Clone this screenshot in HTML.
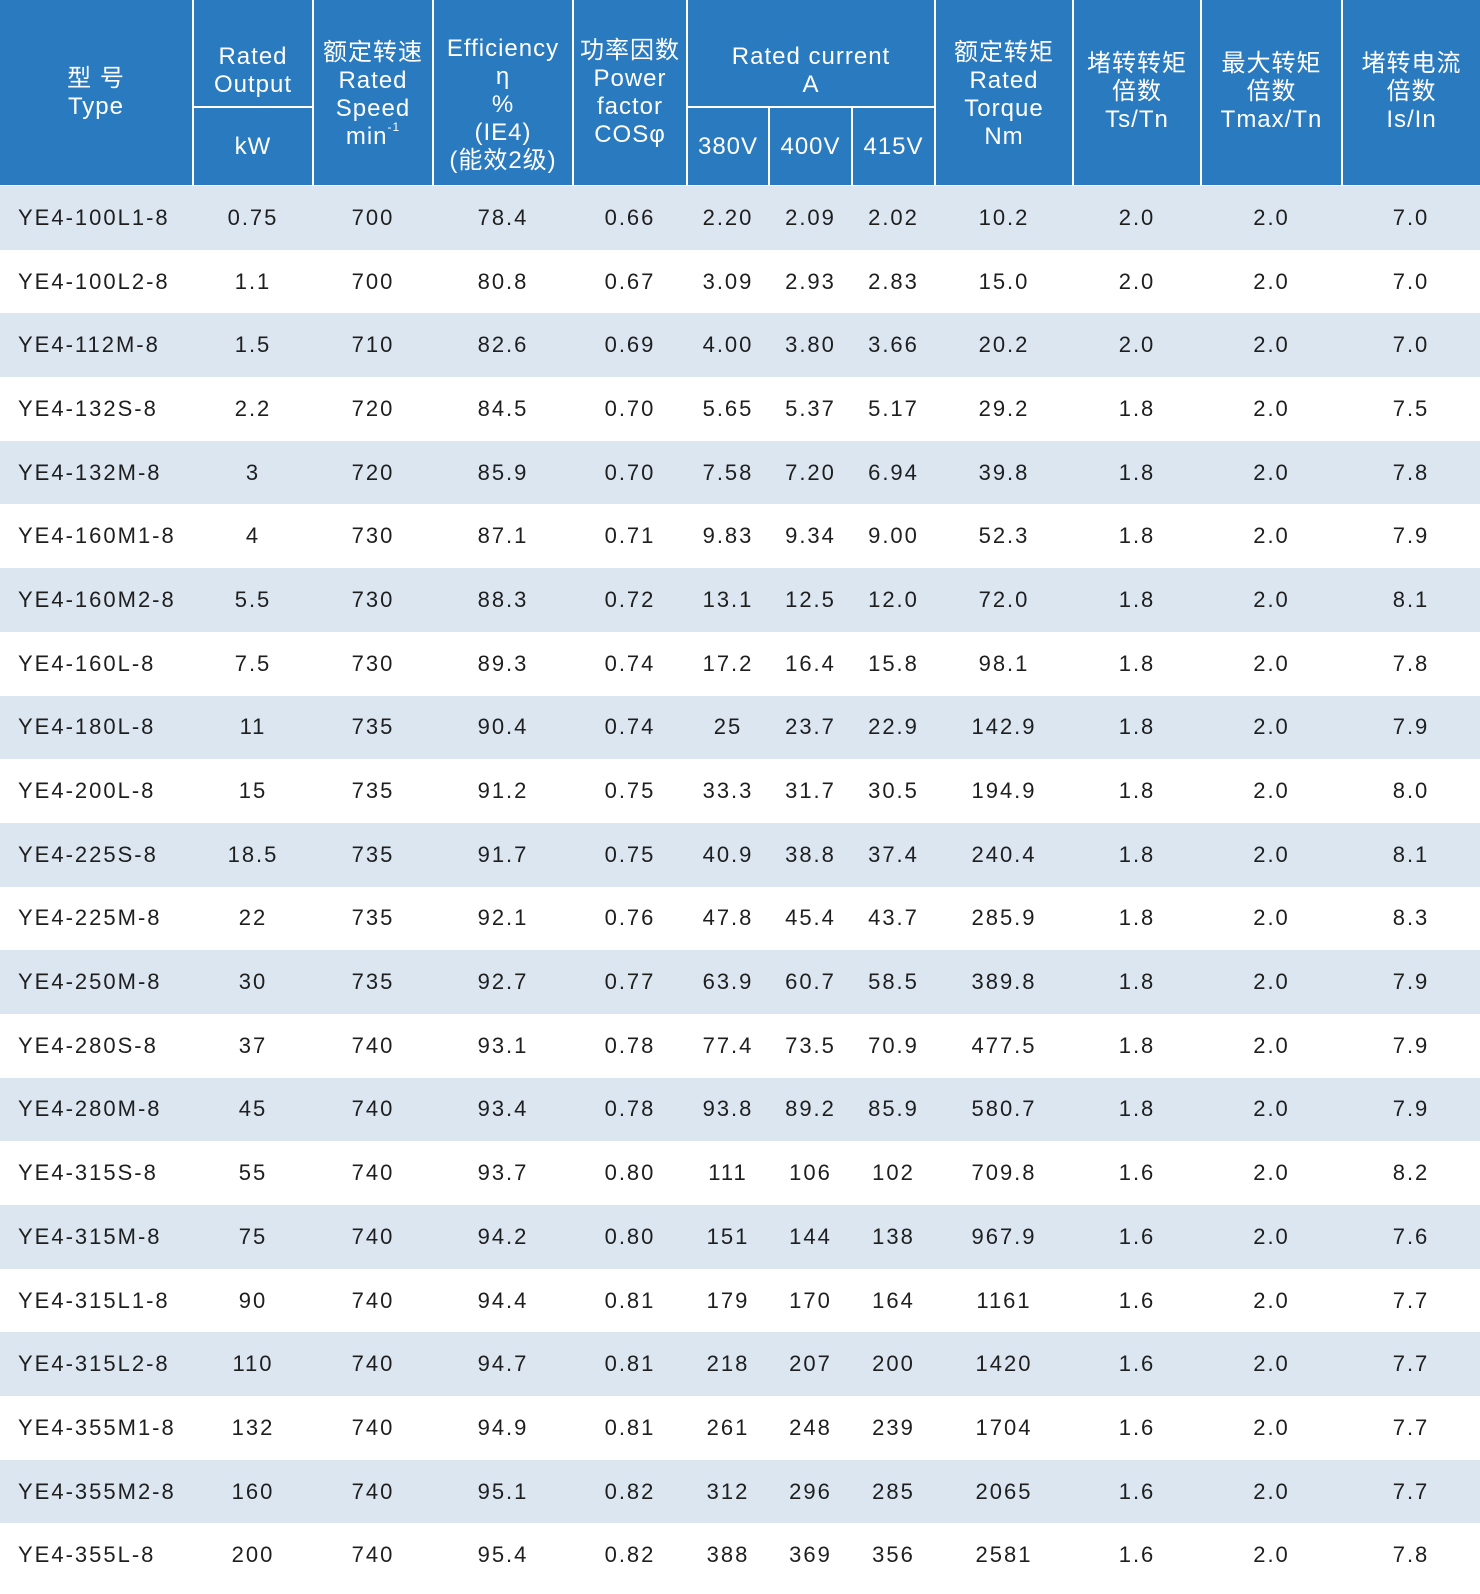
<!DOCTYPE html>
<html><head><meta charset="utf-8"><style>
body{margin:0;width:1480px;height:1594px;overflow:hidden;background:#fff;font-family:"Liberation Sans","Noto Sans CJK SC",sans-serif}
.h{position:absolute;background:#2a7abf;color:#fff;display:flex;align-items:center;justify-content:center;text-align:center;font-size:24px;line-height:28px;letter-spacing:1px;box-sizing:border-box}
.t{padding-top:36px}
table{position:absolute;left:0;top:186px;border-collapse:collapse;table-layout:fixed;width:1480px}
td{height:63.7px;padding:0;text-align:center;font-size:22px;letter-spacing:2px;color:#1e1e1e}
td:first-child{text-align:left;padding-left:18px}
tr:nth-child(odd) td{background:#dbe6f0}
sup{font-size:12px;line-height:0;vertical-align:top;position:relative;top:4px}
</style></head><body>
<div class="h" style="left:0;top:0;width:192px;height:185px"><div>型 号<br>Type</div></div>
<div class="h t" style="left:194px;top:0;width:118px;height:106px"><div>Rated<br>Output</div></div>
<div class="h" style="left:194px;top:108px;width:118px;height:77px"><div>kW</div></div>
<div class="h" style="left:314px;top:0;width:118px;height:185px"><div style="margin-top:4px">额定转速<br>Rated<br>Speed<br>min<sup>-1</sup></div></div>
<div class="h" style="left:434px;top:0;width:138px;height:185px"><div style="margin-top:24px">Efficiency<br>η<br>%<br>(IE4)<br>(能效2级)</div></div>
<div class="h" style="left:574px;top:0;width:112px;height:185px"><div>功率因数<br>Power<br>factor<br>COSφ</div></div>
<div class="h t" style="left:688px;top:0;width:246px;height:106px"><div>Rated current<br>A</div></div>
<div class="h" style="left:688px;top:108px;width:80px;height:77px"><div>380V</div></div>
<div class="h" style="left:770px;top:108px;width:81px;height:77px"><div>400V</div></div>
<div class="h" style="left:853px;top:108px;width:81px;height:77px"><div>415V</div></div>
<div class="h" style="left:936px;top:0;width:136px;height:185px"><div style="margin-top:4px">额定转矩<br>Rated<br>Torque<br>Nm</div></div>
<div class="h" style="left:1074px;top:0;width:126px;height:185px"><div style="margin-top:-2px">堵转转矩<br>倍数<br>Ts/Tn</div></div>
<div class="h" style="left:1202px;top:0;width:139px;height:185px"><div style="margin-top:-2px">最大转矩<br>倍数<br>Tmax/Tn</div></div>
<div class="h" style="left:1343px;top:0;width:137px;height:185px"><div style="margin-top:-2px">堵转电流<br>倍数<br>Is/In</div></div>
<table>
<colgroup><col style="width:193px"><col style="width:120px"><col style="width:120px"><col style="width:140px"><col style="width:114px"><col style="width:82px"><col style="width:83px"><col style="width:83px"><col style="width:138px"><col style="width:128px"><col style="width:141px"><col style="width:138px"></colgroup>
<tr><td>YE4-100L1-8</td><td>0.75</td><td>700</td><td>78.4</td><td>0.66</td><td>2.20</td><td>2.09</td><td>2.02</td><td>10.2</td><td>2.0</td><td>2.0</td><td>7.0</td></tr>
<tr><td>YE4-100L2-8</td><td>1.1</td><td>700</td><td>80.8</td><td>0.67</td><td>3.09</td><td>2.93</td><td>2.83</td><td>15.0</td><td>2.0</td><td>2.0</td><td>7.0</td></tr>
<tr><td>YE4-112M-8</td><td>1.5</td><td>710</td><td>82.6</td><td>0.69</td><td>4.00</td><td>3.80</td><td>3.66</td><td>20.2</td><td>2.0</td><td>2.0</td><td>7.0</td></tr>
<tr><td>YE4-132S-8</td><td>2.2</td><td>720</td><td>84.5</td><td>0.70</td><td>5.65</td><td>5.37</td><td>5.17</td><td>29.2</td><td>1.8</td><td>2.0</td><td>7.5</td></tr>
<tr><td>YE4-132M-8</td><td>3</td><td>720</td><td>85.9</td><td>0.70</td><td>7.58</td><td>7.20</td><td>6.94</td><td>39.8</td><td>1.8</td><td>2.0</td><td>7.8</td></tr>
<tr><td>YE4-160M1-8</td><td>4</td><td>730</td><td>87.1</td><td>0.71</td><td>9.83</td><td>9.34</td><td>9.00</td><td>52.3</td><td>1.8</td><td>2.0</td><td>7.9</td></tr>
<tr><td>YE4-160M2-8</td><td>5.5</td><td>730</td><td>88.3</td><td>0.72</td><td>13.1</td><td>12.5</td><td>12.0</td><td>72.0</td><td>1.8</td><td>2.0</td><td>8.1</td></tr>
<tr><td>YE4-160L-8</td><td>7.5</td><td>730</td><td>89.3</td><td>0.74</td><td>17.2</td><td>16.4</td><td>15.8</td><td>98.1</td><td>1.8</td><td>2.0</td><td>7.8</td></tr>
<tr><td>YE4-180L-8</td><td>11</td><td>735</td><td>90.4</td><td>0.74</td><td>25</td><td>23.7</td><td>22.9</td><td>142.9</td><td>1.8</td><td>2.0</td><td>7.9</td></tr>
<tr><td>YE4-200L-8</td><td>15</td><td>735</td><td>91.2</td><td>0.75</td><td>33.3</td><td>31.7</td><td>30.5</td><td>194.9</td><td>1.8</td><td>2.0</td><td>8.0</td></tr>
<tr><td>YE4-225S-8</td><td>18.5</td><td>735</td><td>91.7</td><td>0.75</td><td>40.9</td><td>38.8</td><td>37.4</td><td>240.4</td><td>1.8</td><td>2.0</td><td>8.1</td></tr>
<tr><td>YE4-225M-8</td><td>22</td><td>735</td><td>92.1</td><td>0.76</td><td>47.8</td><td>45.4</td><td>43.7</td><td>285.9</td><td>1.8</td><td>2.0</td><td>8.3</td></tr>
<tr><td>YE4-250M-8</td><td>30</td><td>735</td><td>92.7</td><td>0.77</td><td>63.9</td><td>60.7</td><td>58.5</td><td>389.8</td><td>1.8</td><td>2.0</td><td>7.9</td></tr>
<tr><td>YE4-280S-8</td><td>37</td><td>740</td><td>93.1</td><td>0.78</td><td>77.4</td><td>73.5</td><td>70.9</td><td>477.5</td><td>1.8</td><td>2.0</td><td>7.9</td></tr>
<tr><td>YE4-280M-8</td><td>45</td><td>740</td><td>93.4</td><td>0.78</td><td>93.8</td><td>89.2</td><td>85.9</td><td>580.7</td><td>1.8</td><td>2.0</td><td>7.9</td></tr>
<tr><td>YE4-315S-8</td><td>55</td><td>740</td><td>93.7</td><td>0.80</td><td>111</td><td>106</td><td>102</td><td>709.8</td><td>1.6</td><td>2.0</td><td>8.2</td></tr>
<tr><td>YE4-315M-8</td><td>75</td><td>740</td><td>94.2</td><td>0.80</td><td>151</td><td>144</td><td>138</td><td>967.9</td><td>1.6</td><td>2.0</td><td>7.6</td></tr>
<tr><td>YE4-315L1-8</td><td>90</td><td>740</td><td>94.4</td><td>0.81</td><td>179</td><td>170</td><td>164</td><td>1161</td><td>1.6</td><td>2.0</td><td>7.7</td></tr>
<tr><td>YE4-315L2-8</td><td>110</td><td>740</td><td>94.7</td><td>0.81</td><td>218</td><td>207</td><td>200</td><td>1420</td><td>1.6</td><td>2.0</td><td>7.7</td></tr>
<tr><td>YE4-355M1-8</td><td>132</td><td>740</td><td>94.9</td><td>0.81</td><td>261</td><td>248</td><td>239</td><td>1704</td><td>1.6</td><td>2.0</td><td>7.7</td></tr>
<tr><td>YE4-355M2-8</td><td>160</td><td>740</td><td>95.1</td><td>0.82</td><td>312</td><td>296</td><td>285</td><td>2065</td><td>1.6</td><td>2.0</td><td>7.7</td></tr>
<tr><td>YE4-355L-8</td><td>200</td><td>740</td><td>95.4</td><td>0.82</td><td>388</td><td>369</td><td>356</td><td>2581</td><td>1.6</td><td>2.0</td><td>7.8</td></tr>
</table>
</body></html>
